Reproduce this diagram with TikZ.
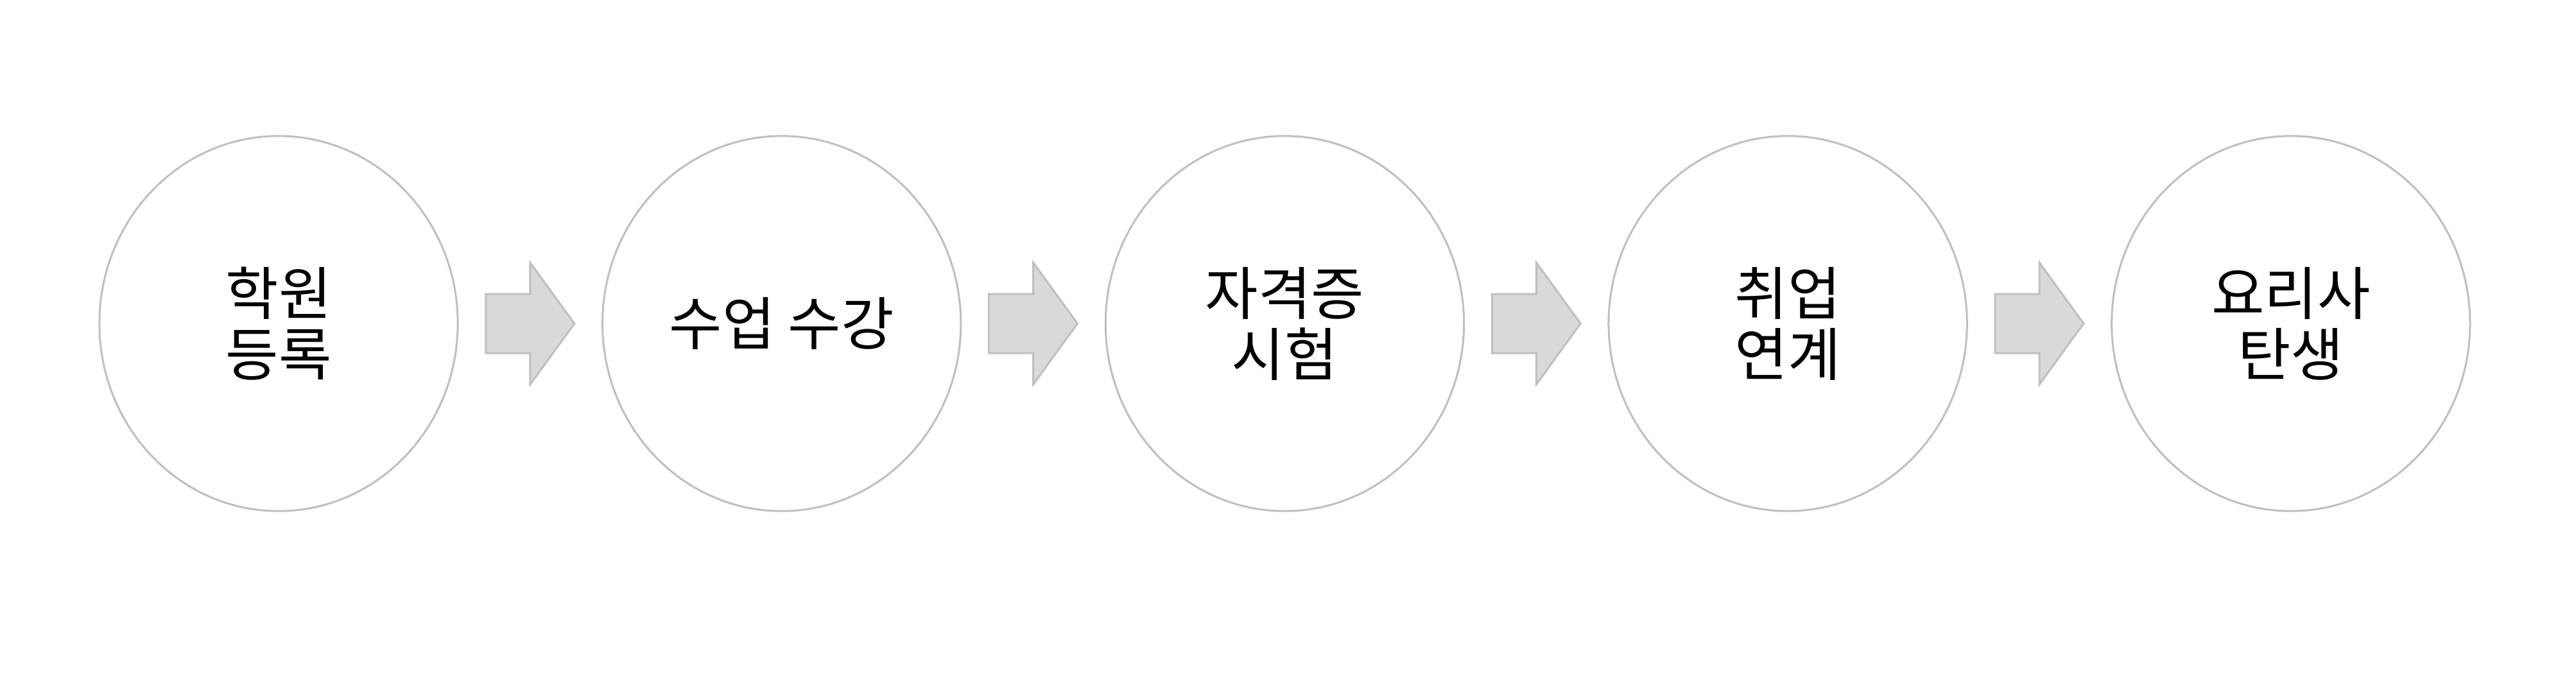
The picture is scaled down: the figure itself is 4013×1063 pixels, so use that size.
\documentclass[tikz,border=0pt]{standalone}
\usepackage{fontspec}
\setmainfont{Noto Sans CJK KR}
\usetikzlibrary{calc}
\usetikzlibrary{shapes.geometric}
\definecolor{circgray}{RGB}{191,191,191}
\definecolor{arrowgray}{RGB}{217,217,217}

\begin{document}
\begin{tikzpicture}[x=0.01cm, y=-0.01cm]

\pgfmathsetmacro{\DX}{783.7}
\pgfmathsetmacro{\AL}{69}
\pgfmathsetmacro{\AS}{46}
\pgfmathsetmacro{\AH}{95}

\tikzset{
  pcircle/.style={draw=circgray, line width=0.03cm, ellipse, inner sep=0, minimum width=5.58cm, minimum height=5.84cm, align=center, font=\fontsize{25.5}{27}\selectfont},
  parrow/.style={draw=circgray, fill=arrowgray, line width=0.03cm, line join=miter},
}
\useasboundingbox (0,0) rectangle (4013,1063);

\node [pcircle] (S1) at (434, 504) {학원\\등록};
\node [pcircle] (S2) at ($(S1) + (\DX, 0)$) {수업 수강};
\node [pcircle] (S3) at ($(S2) + (\DX, 0)$) {자격증\\시험};
\node [pcircle] (S4) at ($(S3) + (\DX, 0)$) {취업\\연계};
\node [pcircle] (S5) at ($(S4) + (\DX, 0)$) {요리사\\탄생};

\foreach \a/\b in {S1/S2, S2/S3, S3/S4, S4/S5}{
  \coordinate (M\a) at ($(\a.east)!0.5!(\b.west)$);
  \draw [parrow] ($(M\a) + (-\AL, -\AS)$) -- ($(M\a) + (0, -\AS)$) -- ($(M\a) + (0, -\AH)$)
    -- ($(M\a) + (\AL, 0)$) -- ($(M\a) + (0, \AH)$) -- ($(M\a) + (0, \AS)$)
    -- ($(M\a) + (-\AL, \AS)$) -- cycle;
}

\end{tikzpicture}
\end{document}
